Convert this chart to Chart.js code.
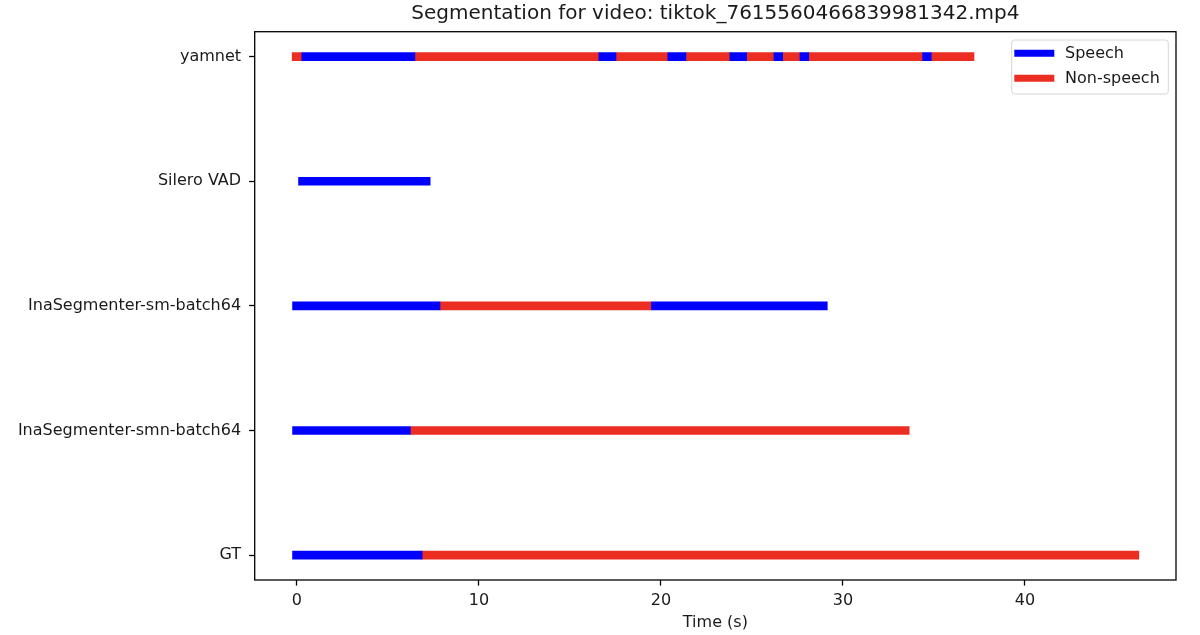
<!DOCTYPE html>
<html>
<head>
<meta charset="utf-8">
<script src="https://cdn.jsdelivr.net/npm/chart.js@4.4.1/dist/chart.umd.min.js"></script>
<style>
  html, body { margin: 0; padding: 0; background: #ffffff; }
  #wrap { width: 1200px; height: 635px; position: relative; }
</style>
</head>
<body>
<div id="wrap"><canvas id="c" width="1200" height="635"></canvas></div>
<script>
// ---- Data (seconds) ----
const categories = ['GT', 'InaSegmenter-smn-batch64', 'InaSegmenter-sm-batch64', 'Silero VAD', 'yamnet'];
const xTicks = [0, 10, 20, 30, 40];
const yTicks = [0, 1, 2, 3, 4];

const gtSpeech = [[-0.24, 6.88]];
const gtNonSpeech = [[6.88, 46.26]];
const smnSpeech = [[-0.24, 6.23]];
const smnNonSpeech = [[6.23, 33.64]];
const smSpeech = [[-0.24, 7.86], [19.48, 29.14]];
const smNonSpeech = [[7.86, 19.48]];
const sileroSpeech = [[0.09, 7.32]];
const sileroNonSpeech = [];
const yamnetSpeech = [[0.27, 6.48], [16.59, 17.53], [20.38, 21.37], [23.79, 24.71], [26.21, 26.69], [27.64, 28.12], [34.38, 34.85]];
const yamnetNonSpeech = [[-0.26, 0.27], [6.48, 16.59], [17.53, 20.38], [21.37, 23.79], [24.71, 26.21], [26.69, 27.64], [28.12, 34.38], [34.85, 37.20]];

const speechByRow = [gtSpeech, smnSpeech, smSpeech, sileroSpeech, yamnetSpeech];
const nonSpeechByRow = [gtNonSpeech, smnNonSpeech, smNonSpeech, sileroNonSpeech, yamnetNonSpeech];

const titleText = 'Segmentation for video: tiktok_7615560466839981342.mp4';
const xTitle = 'Time (s)';
const seriesNames = ['Speech', 'Non-speech'];

// ---- Build points ----
function toPoints(rows) {
  const pts = [];
  rows.forEach((segs, row) => segs.forEach(s => pts.push({ x: [s[0], s[1]], y: row })));
  return pts;
}

const BLUE = '#0000ff';
const RED = '#ec2d21';
const FONT = "'DejaVu Sans', 'Liberation Sans', sans-serif";
const TXT = '#1a1a1a';

const spinesPlugin = {
  id: 'spines',
  afterDatasetsDraw(chart) {
    const { ctx, chartArea: a } = chart;
    ctx.save();
    ctx.strokeStyle = '#000';
    ctx.lineWidth = 1.3;
    ctx.strokeRect(a.left, a.top, a.right - a.left, a.bottom - a.top);
    ctx.restore();
  }
};

const titlePlugin = {
  id: 'mplTitle',
  afterDraw(chart) {
    const { ctx, chartArea: a } = chart;
    ctx.save();
    ctx.fillStyle = TXT;
    ctx.font = '20px ' + FONT;
    ctx.textAlign = 'center';
    ctx.textBaseline = 'alphabetic';
    ctx.fillText(titleText, (a.left + a.right) / 2, a.top - 13);
    ctx.restore();
  }
};

const legendPlugin = {
  id: 'mplLegend',
  afterDraw(chart) {
    const { ctx, chartArea: a } = chart;
    const w = 156.6, h = 54;
    const x0 = a.right - 7.7 - w, y0 = a.top + 8.3;
    ctx.save();
    ctx.beginPath();
    if (ctx.roundRect) ctx.roundRect(x0, y0, w, h, 3); else ctx.rect(x0, y0, w, h);
    ctx.fillStyle = 'rgba(255,255,255,0.8)';
    ctx.fill();
    ctx.strokeStyle = '#d6d6d6';
    ctx.lineWidth = 1;
    ctx.stroke();
    chart.data.datasets.forEach((ds, i) => {
      const cy = y0 + 13.3 + i * 25;
      ctx.beginPath();
      ctx.strokeStyle = ds.backgroundColor;
      ctx.lineWidth = 7;
      ctx.lineCap = 'butt';
      ctx.moveTo(x0 + 2.6, cy);
      ctx.lineTo(x0 + 42.6, cy);
      ctx.stroke();
      ctx.fillStyle = TXT;
      ctx.font = '16px ' + FONT;
      ctx.textBaseline = 'middle';
      ctx.textAlign = 'left';
      ctx.fillText(ds.label, x0 + 53.3, cy + 1);
    });
    ctx.restore();
  }
};

new Chart(document.getElementById('c'), {
  type: 'bar',
  data: {
    datasets: [
      { label: seriesNames[0], data: toPoints(speechByRow), backgroundColor: BLUE },
      { label: seriesNames[1], data: toPoints(nonSpeechByRow), backgroundColor: RED }
    ]
  },
  options: {
    indexAxis: 'y',
    responsive: false,
    animation: false,
    devicePixelRatio: 1,
    layout: { padding: { left: 0, right: 24, top: 31.7, bottom: 0 } },
    datasets: {
      bar: { barThickness: 8, grouped: false, borderWidth: 0, borderSkipped: false }
    },
    plugins: {
      legend: { display: false },
      tooltip: { enabled: false },
      title: { display: false }
    },
    scales: {
      x: {
        type: 'linear',
        position: 'bottom',
        min: -2.32,
        max: 48.3,
        offset: false,
        afterBuildTicks: s => { s.ticks = xTicks.map(v => ({ value: v })); },
        afterFit: s => { s.height = 55; },
        grid: { display: true, offset: false, drawOnChartArea: false, drawTicks: true, tickLength: 5.6, tickColor: '#000', tickWidth: 1.3 },
        border: { display: false },
        ticks: { color: TXT, font: { family: FONT, size: 16 }, padding: 6, maxRotation: 0 },
        title: { display: true, text: xTitle, color: TXT, font: { family: FONT, size: 16 }, padding: { top: 0, bottom: 3 } }
      },
      y: {
        type: 'linear',
        min: -0.2,
        max: 4.2,
        offset: false,
        afterBuildTicks: s => { s.ticks = yTicks.map(v => ({ value: v })); },
        afterFit: s => { s.width = 254.7; },
        grid: { display: true, offset: false, drawOnChartArea: false, drawTicks: true, tickLength: 5.6, tickColor: '#000', tickWidth: 1.3 },
        border: { display: false },
        ticks: { color: TXT, font: { family: FONT, size: 16 }, padding: 8, callback: v => categories[v] }
      }
    }
  },
  plugins: [spinesPlugin, titlePlugin, legendPlugin]
});
</script>
</body>
</html>
